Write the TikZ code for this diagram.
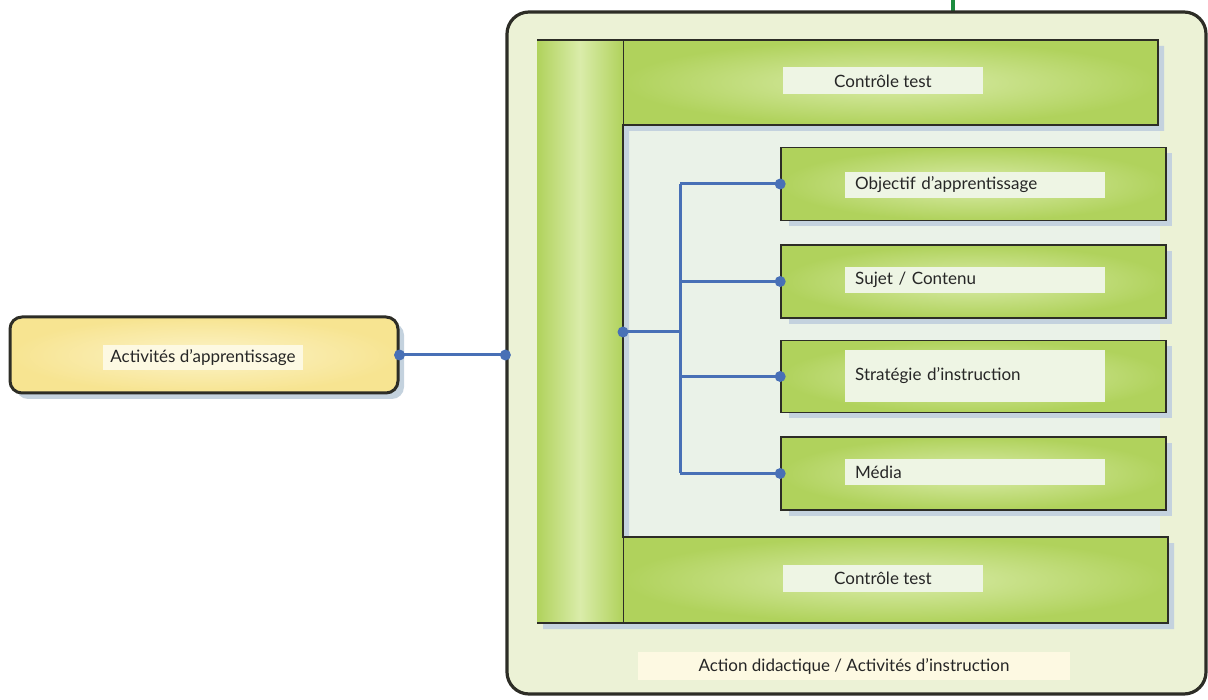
\documentclass[tikz,border=0pt]{standalone}
\usepackage{fontspec}
\setmainfont{Lato}
\definecolor{frameDark}{RGB}{45,45,38}
\definecolor{outerFill}{RGB}{236,242,214}
\definecolor{innerArea}{RGB}{234,242,232}
\definecolor{barGreen}{RGB}{176,210,92}
\definecolor{barLight}{RGB}{218,236,170}
\definecolor{shadowCol}{RGB}{196,210,222}
\definecolor{labGreen}{RGB}{238,245,228}
\definecolor{yelFill}{RGB}{247,228,145}
\definecolor{yelLight}{RGB}{252,243,200}
\definecolor{labYel}{RGB}{253,249,226}
\definecolor{linkBlue}{RGB}{72,112,182}
\definecolor{topGreen}{RGB}{28,140,62}
\tikzset{
  txt/.style={font=\fontsize{17}{19}\selectfont, text=black!85},
  greenbox/.style={draw=frameDark, line width=1.6pt, inner color=barLight, outer color=barGreen, minimum width=385pt, minimum height=73pt},
  boxshadow/.style={fill=shadowCol, draw=none},
  lablg/.style={txt, fill=labGreen, inner sep=0pt, minimum width=200pt, minimum height=27pt},
  labinner/.style={txt, fill=labGreen, inner sep=0pt, inner xsep=10pt, text width=240pt, align=left, anchor=west, minimum height=26pt},
  link/.style={draw=linkBlue, line width=3pt},
  dot/.style={circle, fill=linkBlue, inner sep=0pt, minimum size=11pt},
}
\begin{document}
\begin{tikzpicture}[x=1pt,y=-1pt]
\useasboundingbox (0,0) rectangle (1208,700);
% top green line
\coordinate (gtop) at (953,0);
\coordinate (gbot) at (953,13);
\draw[topGreen, line width=4pt] (gtop) -- (gbot);
% outer box
\node[draw=frameDark, line width=3.2pt, fill=outerFill, rounded corners=22pt, minimum width=699pt, minimum height=682pt] (outer) at (856.5,353) {};
% inner area between the bars
\fill[innerArea] (623,125) rectangle (1160,537);
% C frame shadow
\fill[shadowCol] (543,46) -- (1164,46) -- (1164,131) -- (629,131) -- (629,543) -- (1174,543) -- (1174,629) -- (543,629) -- cycle;
% bars
\shade[left color=barGreen, right color=barGreen, middle color=barLight, shading angle=90] (537,40) rectangle (623,623);
\fill[barGreen] (623,40) rectangle (1158,125);
\shade[inner color=barLight, outer color=barGreen] (623,40) rectangle (1158,125);
\fill[barGreen] (623,537) rectangle (1168,623);
\shade[inner color=barLight, outer color=barGreen] (623,537) rectangle (1168,623);
\draw[frameDark, line width=0.8pt] (623,40) -- (623,125) (623,537) -- (623,623);
\draw[frameDark, line width=1.8pt] (537,40) -- (1158,40) -- (1158,125) -- (623,125) -- (623,537) -- (1168,537) -- (1168,623) -- (537,623);
% inner boxes with shadows
\fill[boxshadow] (789,153) rectangle (1172,226);
\fill[boxshadow] (789,251) rectangle (1172,324);
\fill[boxshadow] (789,346) rectangle (1172,418);
\fill[boxshadow] (789,443) rectangle (1172,516);
\node[greenbox] (obj) at (973.5,184) {};
\node[greenbox] (suj) at (973.5,281.5) {};
\node[greenbox, minimum height=72pt] (str) at (973.5,376.5) {};
\node[greenbox] (med) at (973.5,473.5) {};
% labels
\node[lablg] (ct1) at (883,81) {Contrôle test};
\node[lablg] (ct2) at (883,578.5) {Contrôle test};
\node[labinner] (lobj) at (845,185) {Objectif d’apprentissage};
\node[labinner] (lsuj) at (845,280) {Sujet / Contenu};
\node[labinner, minimum height=52pt] (lstr) at (845,376) {Stratégie d’instruction};
\node[labinner] (lmed) at (845,472.5) {Média};
\node[txt, fill=labYel, inner sep=0pt, minimum width=432pt, minimum height=28pt] (act) at (854,666) {Action didactique / Activités d’instruction};
% left box
\fill[shadowCol, rounded corners=12pt] (16,323) rectangle (404,399);
\node[draw=frameDark, line width=3pt, inner color=yelLight, outer color=yelFill, rounded corners=12pt, minimum width=388pt, minimum height=76pt] (app) at (204,355) {};
\node[txt, fill=labYel, inner sep=0pt, minimum width=200pt, minimum height=25pt] (lapp) at (203,357.5) {Activités d’apprentissage};
% connectors
\coordinate (hub) at (623,332);
\coordinate (tr) at (680,332);
\coordinate (entry) at (app.east -| outer.west);
\draw[link] (app.east) -- (entry);
\draw[link] (hub) -- (tr);
\draw[link] (obj.west -| tr) -- (med.west -| tr);
\draw[link] (obj.west -| tr) -- (obj.west);
\draw[link] (suj.west -| tr) -- (suj.west);
\draw[link] (str.west -| tr) -- (str.west);
\draw[link] (med.west -| tr) -- (med.west);
\node[dot] at (app.east) {};
\node[dot] at (entry) {};
\node[dot] at (hub) {};
\node[dot] at (obj.west) {};
\node[dot] at (suj.west) {};
\node[dot] at (str.west) {};
\node[dot] at (med.west) {};
\end{tikzpicture}
\end{document}
